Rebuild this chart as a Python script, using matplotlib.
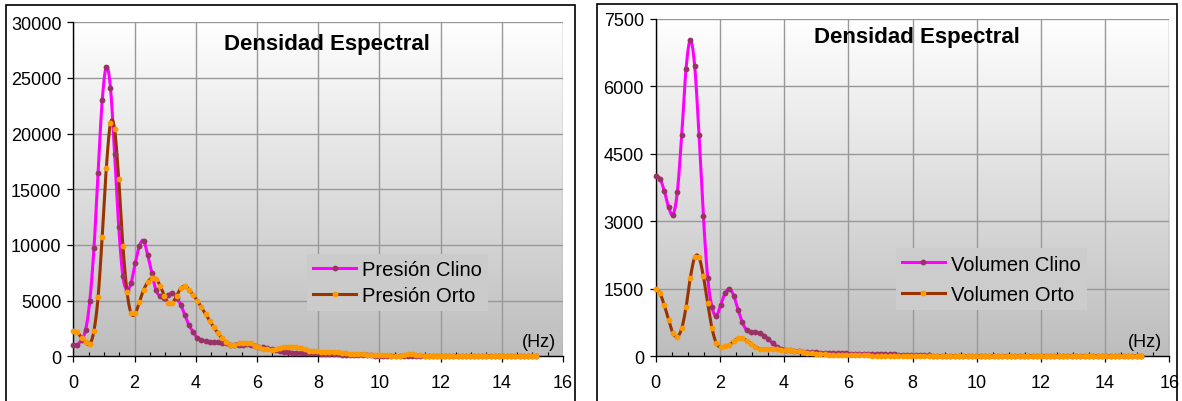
import numpy as np
import matplotlib
matplotlib.use("Agg")
import matplotlib.pyplot as plt
from matplotlib.colors import LinearSegmentedColormap, to_hex
from matplotlib.lines import Line2D
from matplotlib.patches import Rectangle

plt.rcParams["font.family"] = ["Liberation Sans", "DejaVu Sans"]

# frequency grid (Hz), 113 spectral bins
FREQ = np.arange(113) * 0.135

PRES_CLINO = [
    1000, 1050, 1500, 2400, 5000, 9700, 16500, 23000, 26000, 24100,
    18200, 11600, 7200, 6000, 6600, 8400, 9900, 10400, 9100, 7500,
    5950, 5400, 5250, 5500, 5700, 5250, 4650, 3700, 2800, 2200,
    1650, 1450, 1350, 1300, 1250, 1250, 1200, 1150, 1050, 1000,
    1000, 1050, 1100, 1050, 950, 870, 800, 720, 660, 580,
    500, 430, 370, 330, 310, 300, 290, 280, 270, 260,
    250, 240, 220, 200, 180, 150, 120, 100, 90, 80,
    80, 75, 75, 70, 70, 65, 60, 60, 55, 55,
    50, 50, 50, 45, 45, 40, 40, 40, 35, 35,
    35, 30, 30, 30, 30, 25, 25, 25, 25, 20,
    20, 20, 20, 20, 20, 15, 15, 15, 15, 15, 10, 10, 10,
]
PRES_ORTO = [
    2300, 2150, 1650, 1250, 1100, 2300, 5300, 10750, 16950, 20950,
    20400, 15900, 9950, 5800, 3850, 3850, 4900, 5950, 6650, 7050,
    6950, 6350, 5450, 4800, 4800, 5450, 6100, 6300, 6000, 5500,
    5000, 4400, 3800, 3200, 2600, 2100, 1600, 1250, 1050, 1050,
    1150, 1200, 1200, 1150, 950, 800, 700, 620, 600, 650,
    750, 850, 870, 850, 800, 720, 620, 520, 470, 440,
    420, 400, 380, 370, 360, 340, 280, 220, 200, 180,
    170, 160, 150, 150, 140, 130, 100, 60, 50, 60,
    100, 180, 200, 150, 80, 50, 50, 45, 45, 40,
    40, 40, 35, 35, 35, 35, 30, 30, 30, 30,
    30, 25, 25, 25, 25, 25, 20, 20, 20, 20, 20, 20, 20,
]
VOL_CLINO = [
    4010, 3950, 3670, 3310, 3150, 3660, 4920, 6390, 7030, 6450,
    4920, 3110, 1750, 1090, 900, 1140, 1400, 1500, 1350, 1040,
    755, 580, 530, 530, 510, 460, 380, 290, 210, 170,
    150, 135, 125, 115, 105, 95, 90, 85, 80, 75,
    72, 70, 68, 66, 64, 62, 60, 58, 56, 54,
    52, 50, 48, 46, 44, 42, 38, 32, 26, 22,
    20, 20, 18, 18, 16, 16, 15, 15, 14, 14,
    14, 13, 13, 13, 12, 12, 12, 12, 11, 11,
    11, 11, 10, 10, 10, 10, 10, 10, 9, 9,
    9, 9, 9, 9, 9, 8, 8, 8, 8, 8,
    8, 8, 8, 8, 7, 7, 7, 7, 7, 7, 7, 7, 7,
]
VOL_ORTO = [
    1500, 1400, 1130, 810, 510, 440, 620, 1090, 1750, 2200,
    2200, 1780, 1180, 620, 290, 200, 220, 255, 330, 400,
    400, 350, 280, 210, 170, 165, 160, 160, 155, 145,
    135, 130, 120, 110, 95, 80, 65, 55, 48, 42,
    38, 34, 30, 28, 26, 24, 22, 20, 19, 18,
    17, 17, 16, 16, 15, 15, 15, 14, 14, 14,
    13, 13, 13, 13, 12, 12, 12, 12, 12, 11,
    11, 11, 11, 11, 10, 10, 10, 10, 10, 10,
    10, 10, 10, 10, 10, 10, 10, 10, 10, 10,
    10, 10, 10, 10, 10, 10, 10, 10, 10, 10,
    10, 10, 10, 10, 10, 10, 10, 10, 10, 10, 10, 10, 10,
]

X_TICKS = [0, 2, 4, 6, 8, 10, 12, 14, 16]
PRES_YTICKS = [0, 5000, 10000, 15000, 20000, 25000, 30000]
VOL_YTICKS = [0, 1500, 3000, 4500, 6000, 7500]

LINE_CLINO = "#ff00ff"
MARK_CLINO = "#993366"
LINE_ORTO = "#993300"
MARK_ORTO = "#ff9900"
GRAD = LinearSegmentedColormap.from_list("g", ["#ffffff", "#bdbdbd"])
MS = 4.2
LW = 2.2


def catmull_rom(x, y, steps=10):
    x = np.asarray(x, float)
    y = np.asarray(y, float)
    px = np.concatenate([[2 * x[0] - x[1]], x, [2 * x[-1] - x[-2]]])
    py = np.concatenate([[2 * y[0] - y[1]], y, [2 * y[-1] - y[-2]]])
    t = np.linspace(0, 1, steps, endpoint=False)
    xs, ys = [], []
    for i in range(1, len(px) - 2):
        for p, out in ((px, xs), (py, ys)):
            p0, p1, p2, p3 = p[i - 1], p[i], p[i + 1], p[i + 2]
            out.append(0.5 * (2 * p1 + (p2 - p0) * t
                              + (2 * p0 - 5 * p1 + 4 * p2 - p3) * t ** 2
                              + (3 * p1 - p0 - 3 * p2 + p3) * t ** 3))
    xs.append([x[-1]])
    ys.append([y[-1]])
    return np.concatenate(xs), np.concatenate(ys)


def draw_panel(fig, rect, clino, orto, yticks, names, title_xy, legend_xy, spacing):
    ax = fig.add_axes(rect)
    ymax = yticks[-1]
    grad = np.linspace(0, 1, 256).reshape(-1, 1)
    ax.imshow(grad, extent=(0, 16, 0, ymax), aspect="auto", origin="upper",
              cmap=GRAD, zorder=0)
    ax.set_xlim(0, 16)
    ax.set_ylim(0, ymax)
    ax.set_xticks(X_TICKS)
    ax.set_xticks(np.arange(0, 16.01, 0.5), minor=True)
    ax.set_yticks(yticks)
    ax.set_yticklabels([str(v) for v in yticks])
    ax.grid(True, which="major", color="#999999", linewidth=1.0, zorder=1)
    ax.set_axisbelow(True)
    for s in ("top", "right"):
        ax.spines[s].set_visible(False)
    for s in ("left", "bottom"):
        ax.spines[s].set_color("black")
        ax.spines[s].set_linewidth(1.0)
    ax.tick_params(axis="both", which="major", labelsize=13, length=4.5,
                   width=0.9, direction="out", pad=4)
    ax.tick_params(axis="x", which="minor", length=3, width=0.8, direction="in")
    ax.tick_params(axis="x", which="major", pad=8)

    for vals, lc, mc in ((clino, LINE_CLINO, MARK_CLINO), (orto, LINE_ORTO, MARK_ORTO)):
        xs, ys = catmull_rom(FREQ, vals)
        ax.plot(xs, ys, color=lc, linewidth=LW, zorder=3, clip_on=False,
                solid_capstyle="round")
        ax.plot(FREQ, vals, "o", color=mc, markersize=MS, markeredgewidth=0,
                zorder=4, clip_on=False)

    ax.text(title_xy[0], title_xy[1], "Densidad Espectral", transform=ax.transAxes,
            ha="center", va="center", fontsize=16, fontweight="bold")
    ax.text(0.985, 0.045, "(Hz)", transform=ax.transAxes, ha="right",
            va="center", fontsize=13)

    handles = [
        Line2D([], [], color=LINE_CLINO, lw=LW, marker="o", markersize=MS,
               markerfacecolor=MARK_CLINO, markeredgewidth=0),
        Line2D([], [], color=LINE_ORTO, lw=LW, marker="o", markersize=MS,
               markerfacecolor=MARK_ORTO, markeredgewidth=0),
    ]
    # legend box filled with the background tone found at its height
    face = to_hex(GRAD(1 - legend_xy[1]))
    leg = ax.legend(handles, names, loc="center left", bbox_to_anchor=legend_xy,
                    fontsize=14.5, frameon=True, framealpha=1.0,
                    facecolor=face, edgecolor="none", fancybox=False,
                    handlelength=2.15, handletextpad=0.3, labelspacing=spacing,
                    borderpad=0.3, borderaxespad=0)
    leg.set_zorder(2)
    return ax


fig = plt.figure(figsize=(11.82, 4.02), dpi=100)
W, H = 1182.0, 402.0

# chart area frames
fig.patches.append(Rectangle((6 / W, -0.05), (575 - 6) / W, 1.05 - 6 / H,
                             transform=fig.transFigure, fill=False,
                             edgecolor="black", linewidth=1.2))
fig.patches.append(Rectangle((597 / W, -0.05), (1177 - 597) / W, 1.05 - 5 / H,
                             transform=fig.transFigure, fill=False,
                             edgecolor="black", linewidth=1.2))

bottom = 1 - 357.3 / H
draw_panel(fig, [73.3 / W, bottom, (563 - 73.3) / W, (357.3 - 23.3) / H],
           PRES_CLINO, PRES_ORTO, PRES_YTICKS,
           ["Presión Clino", "Presión Orto"], (0.518, 0.938), (0.477, 0.221), 0.37)
draw_panel(fig, [655.7 / W, bottom, (1169.3 - 655.7) / W, (357.3 - 20) / H],
           VOL_CLINO, VOL_ORTO, VOL_YTICKS,
           ["Volumen Clino", "Volumen Orto"], (0.508, 0.947), (0.467, 0.229), 0.55)

fig.savefig("out.png", dpi=100)
